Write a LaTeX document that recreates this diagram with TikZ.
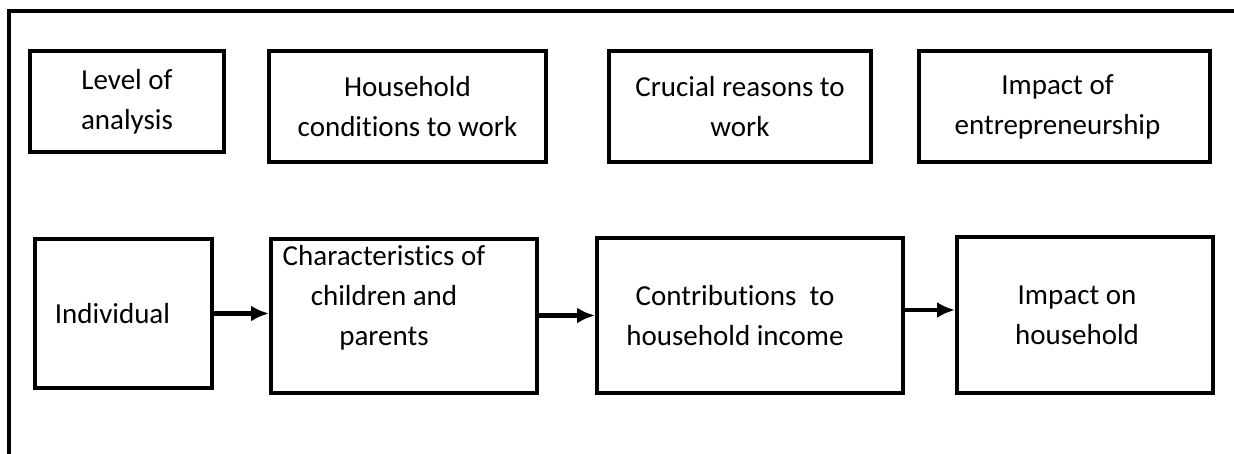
\documentclass[tikz,border=0pt]{standalone}
\usepackage{fontspec}
\setmainfont{Carlito}[Ligatures=NoCommon]
\usetikzlibrary{arrows.meta}

\begin{document}
\begin{tikzpicture}[x=1pt,y=-1pt,
  box/.style={rectangle,draw,line width=4pt,align=center,inner sep=0pt,
    font=\fontsize{29}{40}\selectfont},
  lbl/.style={align=center,inner sep=0pt,font=\fontsize{29}{40}\selectfont},
  arr/.style={line width=4pt,-{Latex[length=18pt,width=16pt]}}]
\useasboundingbox (0,0) rectangle (1234,454);
\draw[line width=4pt] (9,460) -- (9,11) -- (1240,11);

\path (127,101.5) node[box,minimum width=194pt,minimum height=101pt] (t1) {Level of\\analysis};
\path (407.5,106.5) node[box,minimum width=277pt,minimum height=111pt] (t2) {Household\\conditions to work};
\path (740,106.5) node[box,minimum width=262pt,minimum height=111pt] (t3) {Crucial reasons to\\work};
\path (1064.5,106.5) node[box,minimum width=291pt,minimum height=111pt,
  label={[lbl,xshift=-7pt]center:{Impact of\\entrepreneurship}}] (t4) {};

\path (123.5,313.5) node[box,minimum width=177pt,minimum height=149pt,
  label={[lbl,xshift=-11pt]center:Individual}] (c1) {};
\path (404,316) node[box,minimum width=266pt,minimum height=154pt,
  label={[lbl,xshift=-20pt,yshift=18pt]center:{Characteristics of\\children and\\parents}}] (c2) {};
\path (750,315.5) node[box,minimum width=306pt,minimum height=155pt,
  label={[lbl,xshift=-15pt]center:{Contributions~ to\\household income}}] (c3) {};
\path (1085,315) node[box,minimum width=256pt,minimum height=156pt,
  label={[lbl,xshift=-8pt]center:{Impact on\\household}}] (c4) {};

\draw[arr] (c1.east) -- (c1.east -| c2.west);
\draw[arr] (c2.east |- c3.west) -- (c3.west);
\draw[arr] (c3.east |- 0,310) -- (c4.west |- 0,310);
\end{tikzpicture}
\end{document}
